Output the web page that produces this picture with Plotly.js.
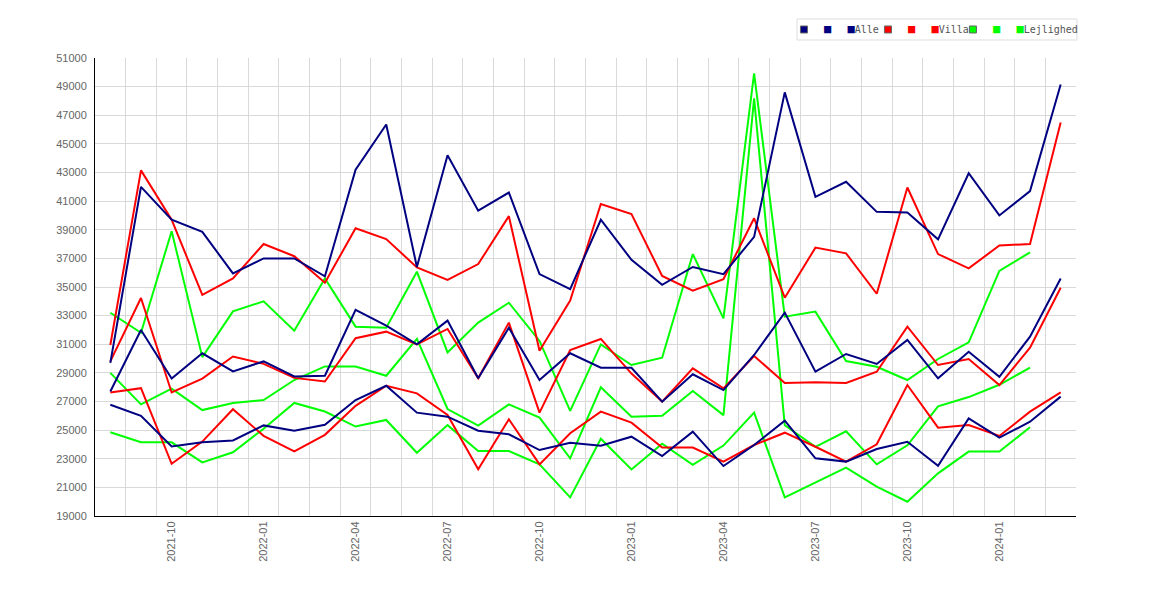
<!DOCTYPE html>
<html>
<head>
<meta charset="utf-8">
<script src="https://cdn.plot.ly/plotly-3.0.1.min.js"></script>
<style>
  html, body { margin: 0; padding: 0; background: #fff; }
  #chart { width: 1170px; height: 600px; }
</style>
</head>
<body>
<div id="chart"></div>
<script>
// monthly price levels (kr/m2): upper, middle and lower band per property type
var months = ["2021-08", "2021-09", "2021-10", "2021-11", "2021-12", "2022-01", "2022-02", "2022-03",
  "2022-04", "2022-05", "2022-06", "2022-07", "2022-08", "2022-09", "2022-10", "2022-11", "2022-12",
  "2023-01", "2023-02", "2023-03", "2023-04", "2023-05", "2023-06", "2023-07", "2023-08", "2023-09",
  "2023-10", "2023-11", "2023-12", "2024-01", "2024-02", "2024-03"];
var labelledMonths = ["2021-10", "2022-01", "2022-04", "2022-07", "2022-10", "2023-01", "2023-04",
  "2023-07", "2023-10", "2024-01"];

var alleHigh = [29700, 42000, 39700, 38850, 35950, 37000, 37000, 35750, 43200, 46350, 36400, 44200,
  40330, 41600, 35900, 34850, 39700, 36900, 35150, 36400, 35900, 38500, 48600, 41300, 42350, 40250,
  40200, 38330, 42950, 40000, 41700, 49150];
var alleMid = [27700, 32000, 28600, 30370, 29100, 29800, 28750, 28800, 33400, 32300, 30990, 32650,
  28620, 32160, 28500, 30370, 29360, 29360, 26990, 28900, 27800, 30250, 33210, 29080, 30320, 29620,
  31300, 28620, 30480, 28730, 31530, 35600];
var alleLow = [26770, 26000, 23860, 24160, 24280, 25330, 24950, 25370, 27100, 28100, 26220, 25940,
  24960, 24710, 23610, 24120, 23910, 24540, 23190, 24890, 22490, 23960, 25660, 23030, 22800, 23680,
  24190, 22510, 25820, 24470, 25590, 27340];

var villaHigh = [30950, 43150, 39700, 34450, 35600, 38000, 37150, 35300, 39100, 38350, 36370, 35500,
  36600, 39950, 30550, 34050, 40800, 40100, 35770, 34750, 35550, 39800, 34250, 37750, 37350, 34530,
  41950, 37300, 36300, 37900, 38000, 46500];
var villaMid = [29800, 34230, 27630, 28600, 30140, 29630, 28650, 28400, 31420, 31880, 30990, 32070,
  28620, 32510, 26220, 30600, 31370, 28950, 26990, 29320, 27920, 30180, 28290, 28340, 28290, 29080,
  32230, 29550, 29970, 28150, 30760, 34950];
var villaLow = [27630, 27930, 22650, 24200, 26460, 24600, 23510, 24670, 26700, 28100, 27570, 26060,
  22260, 25760, 22610, 24780, 26290, 25520, 23780, 23780, 22800, 23960, 24820, 23840, 22800, 24010,
  28150, 25170, 25360, 24590, 26290, 27640];

var lejlHigh = [33200, 31800, 38900, 30100, 33300, 34000, 31950, 35600, 32230, 32150, 36070, 30430,
  32510, 33900, 31230, 26340, 30990, 29550, 30060, 37300, 32810, 49930, 32930, 33280, 29830, 29430,
  28500, 29970, 31130, 36120, 37420];
var lejlMid = [29000, 26800, 27900, 26400, 26900, 27100, 28500, 29450, 29450, 28800, 31370, 26475,
  25310, 26800, 25870, 23030, 27990, 25940, 26010, 27730, 26050, 48180, 25340, 23830, 24920, 22610,
  23940, 26660, 27310, 28170, 29360];
var lejlLow = [24850, 24150, 24150, 22750, 23450, 25100, 26900, 26300, 25250, 25710, 23420, 25350,
  23540, 23540, 22610, 20300, 24400, 22250, 24050, 22580, 23920, 26220, 20300, 21330, 22380, 21050,
  20000, 21980, 23500, 23500, 25200];

var groups = [
  { name: "Alle", color: "#000080", series: [alleHigh, alleMid, alleLow], lw: 39 },
  { name: "Villa", color: "#ff0000", series: [villaHigh, villaMid, villaLow], lw: 40 },
  { name: "Lejlighed", color: "#00ff00", series: [lejlHigh, lejlMid, lejlLow], lw: 95 }
];

var NBSP = "\u00a0";
var traces = [];

// lines: apartments underneath, "Alle" on top
groups.slice().reverse().forEach(function (g) {
  g.series.forEach(function (vals) {
    traces.push({
      type: "scatter", mode: "lines",
      x: months.slice(0, vals.length), y: vals,
      line: { color: g.color, width: 2 },
      showlegend: false, hoverinfo: "x+y"
    });
  });
});

// legend entries: three squares per group, label after the third
groups.forEach(function (g) {
  var sq = '<span style="color:' + g.color + ';font-size:12px">\u25a0</span>';
  var gap = '<span style="font-size:9px">' + NBSP + NBSP + NBSP + '</span>';
  traces.push({
    type: "scatter", mode: "markers", x: [null], y: [null],
    name: sq + gap + sq + g.name,
    legendwidth: g.lw,
    marker: { symbol: "square", size: 7, color: g.color, line: { color: "#666", width: 1 } }
  });
});

var tickFont = { family: "Liberation Sans, Arial, sans-serif", size: 11, color: "#666" };

var layout = {
  width: 1170, height: 600,
  margin: { l: 95, r: 94, t: 58, b: 84 },
  paper_bgcolor: "#fff", plot_bgcolor: "#fff",
  showlegend: true,
  legend: {
    orientation: "h", xanchor: "left", yanchor: "top",
    x: 0.7023, y: 1.0939,
    bgcolor: "rgba(0,0,0,0)", borderwidth: 0,
    font: { family: "DejaVu Sans Mono, monospace", size: 10, color: "#555" },
    itemwidth: 30
  },
  // legend frame
  shapes: [{
    type: "rect", xref: "paper", yref: "paper", layer: "above",
    x0: 0.7156, x1: 1.001, y0: 1.0393, y1: 1.0852,
    line: { color: "#dddddd", width: 1 }, fillcolor: "rgba(0,0,0,0)"
  }],
  xaxis: {
    type: "category",
    range: [-0.5, months.length - 0.5],
    tickmode: "array",
    tickvals: months,
    ticktext: months.map(function (m) { return labelledMonths.indexOf(m) >= 0 ? m : ""; }),
    tickson: "boundaries",
    tickangle: -90,
    ticks: "",
    tickfont: tickFont,
    showgrid: true, gridcolor: "#d9d9d9", gridwidth: 1,
    showline: true, linecolor: "#000", linewidth: 1,
    zeroline: false, fixedrange: true
  },
  yaxis: {
    range: [19000, 51000],
    tick0: 19000, dtick: 2000,
    tickformat: "d",
    ticks: "",
    ticklabelstandoff: 5,
    tickfont: tickFont,
    showgrid: true, gridcolor: "#d9d9d9", gridwidth: 1,
    showline: true, linecolor: "#000", linewidth: 1,
    zeroline: false, fixedrange: true
  },
  hovermode: "closest"
};

Plotly.newPlot("chart", traces, layout, { displayModeBar: false, staticPlot: true });
</script>
</body>
</html>
